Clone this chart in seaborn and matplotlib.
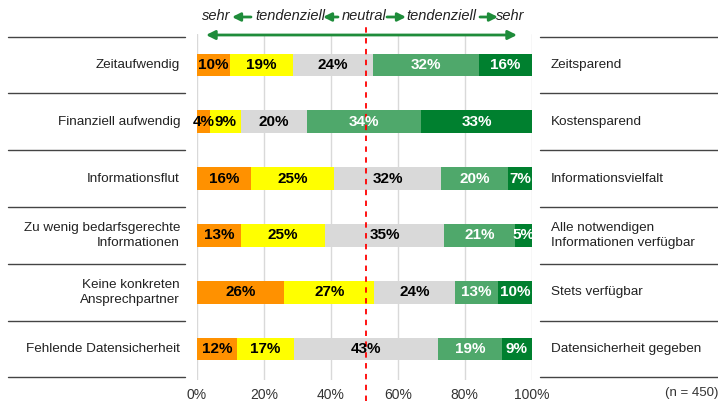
import numpy as np
import pandas as pd
import matplotlib
matplotlib.use("Agg")
import matplotlib.pyplot as plt
import matplotlib.transforms as mtransforms
import seaborn as sns

# data
left_labels = ["Zeitaufwendig", "Finanziell aufwendig", "Informationsflut",
               "Zu wenig bedarfsgerechte\nInformationen", "Keine konkreten\nAnsprechpartner",
               "Fehlende Datensicherheit"]
right_labels = ["Zeitsparend", "Kostensparend", "Informationsvielfalt",
                "Alle notwendigen\nInformationen verfügbar", "Stets verfügbar",
                "Datensicherheit gegeben"]
sehr_neg = [10, 4, 16, 13, 26, 12]
tend_neg = [19, 9, 25, 25, 27, 17]
neutral = [24, 20, 32, 35, 24, 43]
tend_pos = [32, 34, 20, 21, 13, 19]
sehr_pos = [16, 33, 7, 5, 10, 9]
mean_line = 50.6
n_text = "(n = 450)"
xticks = [0, 20, 40, 60, 80, 100]

colors = ["#FF9100", "#FFFF00", "#D9D9D9", "#4FA86B", "#00802F"]
text_colors = ["black", "black", "black", "white", "white"]

sns.set_theme(style="white")
plt.rcParams["font.family"] = ["Liberation Sans", "DejaVu Sans"]

df = pd.DataFrame({"cat": left_labels, "s1": sehr_neg, "s2": tend_neg, "s3": neutral,
                   "s4": tend_pos, "s5": sehr_pos})
parts = ["s1", "s2", "s3", "s4", "s5"]
total = df[parts].sum(axis=1)
shares = df[parts].div(total, axis=0) * 100
cum = shares.cumsum(axis=1)

fig = plt.figure(figsize=(7.18, 4.03), dpi=100)
ax = fig.add_axes([197 / 718, 1 - 380 / 403, (531.7 - 197) / 718, (380 - 34) / 403])

# stacked bars by overlaying cumulative sums, widest first
for i in range(4, -1, -1):
    sns.barplot(x=cum[parts[i]].values, y=df["cat"], orient="h", color=colors[i],
                width=0.4, ax=ax, saturation=1, edgecolor="none", zorder=3)

for r in range(len(df)):
    start = 0
    for i, p in enumerate(parts):
        w = shares.loc[r, p]
        ax.text(start + w / 2, r, f"{df.loc[r, p]}%", ha="center", va="center",
                fontsize=11, fontweight="bold", color=text_colors[i], zorder=8)
        start += w

ax.set_xlim(0, 100)
ax.set_ylim(5.546, -0.546)
ax.set_xticks(xticks)
ax.set_xticklabels([f"{t}%" for t in xticks], fontsize=10, color="#333333")
ax.tick_params(axis="x", length=0, pad=6)
ax.set_yticks([])
ax.set_xlabel("")
ax.set_ylabel("")
for s in ax.spines.values():
    s.set_visible(False)
ax.grid(axis="x", color="#D9D9D9", lw=1, zorder=0)
ax.axvline(mean_line, color="#FF0000", ls=(0, (3, 3)), lw=1.3, zorder=6, clip_on=False,
           ymin=-0.06, ymax=1.032)

trans = mtransforms.blended_transform_factory(fig.transFigure, ax.transData)
for r in range(len(df)):
    ax.text(180 / 718, r, left_labels[r], transform=trans, ha="right", va="center",
            fontsize=9.7, color="#222222", linespacing=1.3)
    ax.text(551 / 718, r, right_labels[r], transform=trans, ha="left", va="center",
            fontsize=9.7, color="#222222", linespacing=1.3)
for b in np.arange(-0.5, 6, 1.0):
    ax.plot([8 / 718, 185 / 718], [b, b], transform=trans, color="#444444", lw=1, clip_on=False)
    ax.plot([540 / 718, 1.0], [b, b], transform=trans, color="#444444", lw=1, clip_on=False)

fig.text(665 / 718, 1 - 393 / 403, n_text, ha="left", va="center", fontsize=9.5, color="#333333")

# header scale
green = "#1E8C3A"
def px(x, y):
    return (x / 718, 1 - y / 403)

fig.patches.append(matplotlib.patches.FancyArrowPatch(
    px(206, 35), px(517, 35), transform=fig.transFigure, arrowstyle="<|-|>",
    mutation_scale=13, color=green, lw=2, shrinkA=0, shrinkB=0, zorder=10))
header = [("sehr", 216), ("tendenziell", 290), ("neutral", 364), ("tendenziell", 441), ("sehr", 510)]
for t, x in header:
    fig.text(*px(x, 16), t, ha="center", va="center", fontsize=10.5, style="italic", color="#222222")
for x0, x1 in [(251, 232), (338, 323), (387, 406), (480, 498)]:
    fig.patches.append(matplotlib.patches.FancyArrowPatch(
        px(x0, 17), px(x1, 17), transform=fig.transFigure, arrowstyle="-|>",
        mutation_scale=12, color=green, lw=2, shrinkA=0, shrinkB=0))

fig.savefig("out.png", dpi=100)
